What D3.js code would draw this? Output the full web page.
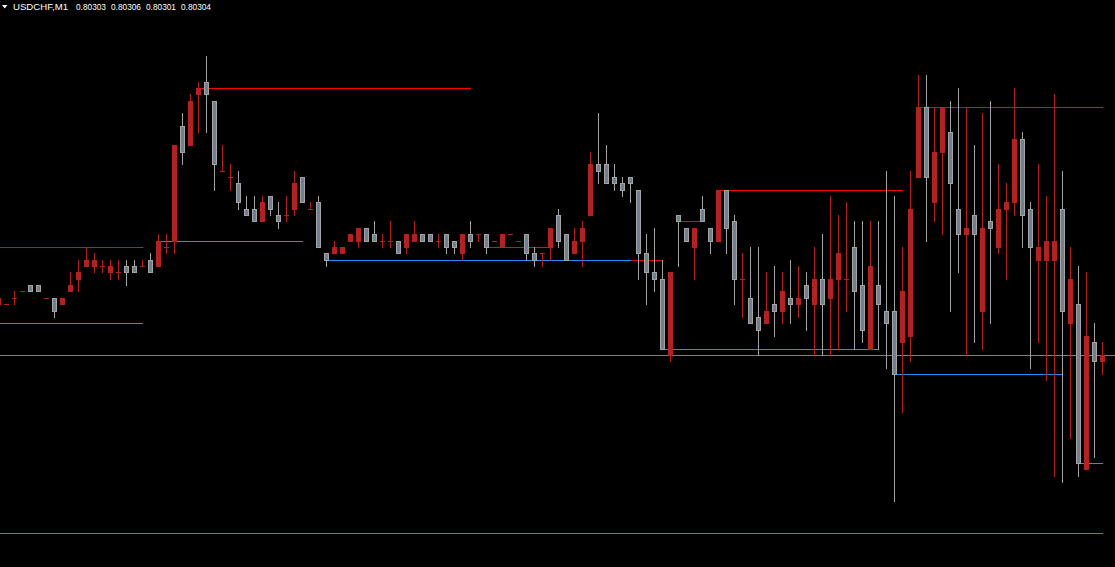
<!DOCTYPE html>
<html>
<head>
<meta charset="utf-8">
<script src="https://cdn.jsdelivr.net/npm/d3@7"></script>
<style>
  html, body { margin: 0; padding: 0; background: #000; }
  svg { display: block; }
</style>
</head>
<body>
<svg id="chart" width="1115" height="567"></svg>
<script>
// ---- Data (USDCHF, M1) ----
const symbol = "USDCHF,M1";
const open = [0.80312,0.80312,0.80313,0.80314,0.80315,0.80315,0.80313,0.80313,0.80312,0.80314,
0.80316,0.80318,0.80318,0.80318,0.80317,0.80317,0.80318,0.80318,0.80318,0.80319,
0.80318,0.80321,0.80322,0.80340,0.80337,0.80345,0.80347,0.80344,0.80333,0.80332,
0.80331,0.80327,0.80327,0.80325,0.80329,0.80326,0.80326,0.80327,0.80332,0.80327,
0.80328,0.80320,0.80320,0.80320,0.80322,0.80322,0.80324,0.80323,0.80322,0.80322,
0.80322,0.80321,0.80322,0.80323,0.80323,0.80322,0.80323,0.80322,0.80320,0.80323,
0.80323,0.80323,0.80322,0.80321,0.80323,0.80322,0.80323,0.80320,0.80320,0.80321,
0.80326,0.80323,0.80320,0.80322,0.80326,0.80334,0.80334,0.80332,0.80331,0.80332,
0.80330,0.80320,0.80317,0.80316,0.80304,0.80326,0.80324,0.80321,0.80327,0.80324,
0.80322,0.80330,0.80325,0.80316,0.80313,0.80310,0.80309,0.80312,0.80311,0.80313,
0.80312,0.80315,0.80312,0.80316,0.80313,0.80316,0.80316,0.80321,0.80315,0.80305,
0.80315,0.80311,0.80311,0.80306,0.80307,0.80332,0.80343,0.80328,0.80336,0.80339,
0.80327,0.80323,0.80326,0.80311,0.80325,0.80321,0.80327,0.80328,0.80338,0.80327,
0.80319,0.80319,0.80319,0.80327,0.80309,0.80312,0.80286,0.80306,0.80303];
const high = [0.80313,0.80312,0.80314,0.80314,0.80315,0.80315,0.80313,0.80313,0.80313,0.80317,
0.80319,0.80321,0.80320,0.80319,0.80319,0.80319,0.80319,0.80319,0.80319,0.80320,
0.80323,0.80323,0.80337,0.80342,0.80345,0.80347,0.80351,0.80344,0.80337,0.80334,
0.80333,0.80329,0.80329,0.80329,0.80329,0.80328,0.80329,0.80333,0.80332,0.80328,
0.80329,0.80320,0.80322,0.80321,0.80323,0.80324,0.80324,0.80325,0.80323,0.80325,
0.80322,0.80323,0.80325,0.80323,0.80323,0.80323,0.80323,0.80322,0.80323,0.80325,
0.80323,0.80323,0.80322,0.80323,0.80323,0.80322,0.80323,0.80321,0.80320,0.80324,
0.80327,0.80323,0.80324,0.80325,0.80336,0.80342,0.80337,0.80334,0.80332,0.80332,
0.80330,0.80323,0.80324,0.80319,0.80317,0.80326,0.80324,0.80324,0.80329,0.80324,
0.80330,0.80330,0.80326,0.80320,0.80321,0.80321,0.80317,0.80318,0.80317,0.80319,
0.80318,0.80317,0.80321,0.80323,0.80329,0.80326,0.80328,0.80325,0.80325,0.80325,
0.80325,0.80333,0.80329,0.80321,0.80333,0.80348,0.80348,0.80343,0.80343,0.80344,
0.80346,0.80343,0.80337,0.80342,0.80344,0.80334,0.80331,0.80346,0.80339,0.80328,
0.80334,0.80329,0.80345,0.80333,0.80321,0.80318,0.80317,0.80309,0.80306];
const low = [0.80312,0.80312,0.80312,0.80314,0.80314,0.80314,0.80313,0.80310,0.80312,0.80314,
0.80314,0.80318,0.80317,0.80317,0.80316,0.80316,0.80315,0.80317,0.80318,0.80317,
0.80318,0.80320,0.80320,0.80334,0.80337,0.80339,0.80339,0.80330,0.80333,0.80330,
0.80327,0.80326,0.80325,0.80325,0.80326,0.80324,0.80325,0.80326,0.80328,0.80327,
0.80321,0.80318,0.80320,0.80320,0.80322,0.80321,0.80322,0.80322,0.80321,0.80321,
0.80320,0.80320,0.80322,0.80322,0.80322,0.80321,0.80320,0.80320,0.80319,0.80321,
0.80322,0.80320,0.80322,0.80321,0.80323,0.80322,0.80319,0.80318,0.80318,0.80319,
0.80321,0.80319,0.80320,0.80318,0.80326,0.80331,0.80331,0.80330,0.80329,0.80328,
0.80316,0.80312,0.80314,0.80305,0.80303,0.80318,0.80322,0.80316,0.80325,0.80320,
0.80322,0.80320,0.80312,0.80310,0.80309,0.80304,0.80309,0.80307,0.80309,0.80309,
0.80310,0.80308,0.80304,0.80304,0.80304,0.80305,0.80311,0.80305,0.80306,0.80305,
0.80305,0.80302,0.80281,0.80295,0.80303,0.80332,0.80322,0.80325,0.80323,0.80311,
0.80317,0.80304,0.80306,0.80305,0.80309,0.80320,0.80316,0.80326,0.80321,0.80302,
0.80306,0.80300,0.80285,0.80284,0.80291,0.80285,0.80286,0.80288,0.80301];
const close = [0.80313,0.80312,0.80313,0.80314,0.80314,0.80314,0.80313,0.80311,0.80313,0.80315,
0.80317,0.80319,0.80319,0.80318,0.80318,0.80317,0.80317,0.80317,0.80318,0.80317,
0.80322,0.80321,0.80337,0.80336,0.80344,0.80346,0.80345,0.80334,0.80333,0.80332,
0.80328,0.80326,0.80325,0.80328,0.80327,0.80325,0.80326,0.80331,0.80328,0.80327,
0.80321,0.80319,0.80321,0.80321,0.80323,0.80324,0.80322,0.80322,0.80322,0.80322,
0.80320,0.80323,0.80323,0.80322,0.80322,0.80322,0.80321,0.80321,0.80323,0.80322,
0.80323,0.80321,0.80322,0.80323,0.80323,0.80322,0.80320,0.80319,0.80320,0.80324,
0.80322,0.80319,0.80322,0.80324,0.80334,0.80333,0.80331,0.80331,0.80330,0.80331,
0.80320,0.80317,0.80316,0.80305,0.80317,0.80325,0.80322,0.80324,0.80325,0.80322,
0.80330,0.80324,0.80316,0.80316,0.80309,0.80308,0.80311,0.80311,0.80314,0.80312,
0.80313,0.80313,0.80316,0.80312,0.80316,0.80320,0.80316,0.80314,0.80308,0.80318,
0.80312,0.80309,0.80301,0.80314,0.80327,0.80343,0.80332,0.80336,0.80343,0.80331,
0.80323,0.80324,0.80323,0.80324,0.80324,0.80327,0.80328,0.80338,0.80326,0.80321,
0.80321,0.80322,0.80322,0.80311,0.80316,0.80287,0.80307,0.80303,0.80304];

// Horizontal levels: price, from-bar, to-bar
const resistanceLevels = [[0.80321, 0, 18], [0.80346, 25, 59], [0.80321, 61, 69], [0.80319, 79, 83],
                          [0.80325, 85, 88], [0.80330, 90, 113], [0.80343, 115, 138]];
const supportLevels = [[0.80309, 0, 18], [0.80322, 20, 38], [0.80319, 41, 79], [0.80305, 83, 110],
                       [0.80301, 112, 133], [0.80287, 135, 138], [0.80276, 0, 138]];
const bidPrice = 0.80304;

// ---- Drawing ----
const W = 1115, H = 567;
const svg = d3.select("#chart");
svg.append("rect").attr("width", W).attr("height", H).attr("fill", "#000");

const n = open.length;
const x = d3.scaleLinear().domain([0, n - 1]).range([-1.5, 1102.5]);
const y = d3.scaleLinear().domain([0.80276, 0.80346]).range([533, 88]);
const py = p => Math.round(y(p));

const colBull = "#b22222", colBearFill = "#708090", colBearLine = "#a4a4a4";
const colRes = "#ff0000", colSup = "#1e90ff", colBid = "#808080";

// level lines
const lv = svg.append("g").attr("shape-rendering", "crispEdges");
lv.append("line").attr("x1", 0).attr("x2", W)
  .attr("y1", py(bidPrice) + 0.5).attr("y2", py(bidPrice) + 0.5)
  .attr("stroke", colBid).attr("stroke-width", 1);
lv.selectAll("line.res").data(resistanceLevels).join("line").attr("class", "res")
  .attr("x1", d => Math.max(0, x(d[1]))).attr("x2", d => x(d[2]))
  .attr("y1", d => py(d[0]) + 0.5).attr("y2", d => py(d[0]) + 0.5)
  .attr("stroke", colRes).attr("stroke-width", 1);
lv.selectAll("line.sup").data(supportLevels).join("line").attr("class", "sup")
  .attr("x1", d => Math.max(0, x(d[1]))).attr("x2", d => x(d[2]))
  .attr("y1", d => py(d[0]) + 0.5).attr("y2", d => py(d[0]) + 0.5)
  .attr("stroke", colSup).attr("stroke-width", 1);

// candles
const bars = d3.range(n).map(i => ({i, o: open[i], h: high[i], l: low[i], c: close[i]}));
const cg = svg.append("g").attr("shape-rendering", "crispEdges");
const g = cg.selectAll("g.c").data(bars).join("g").attr("class", "c");

g.filter(d => d.h !== d.l).append("rect")
  .attr("x", d => x(d.i) - 0.5).attr("width", 1)
  .attr("y", d => py(d.h)).attr("height", d => py(d.l) - py(d.h) + 1)
  .attr("fill", d => d.c >= d.o ? colBull : colBearLine);

// doji
g.filter(d => d.c === d.o).append("rect")
  .attr("x", d => x(d.i) - 2.5).attr("width", 5)
  .attr("y", d => py(d.o)).attr("height", 1)
  .attr("fill", colBull);

// bull bodies
g.filter(d => d.c > d.o).append("rect")
  .attr("x", d => x(d.i) - 2.5).attr("width", 5)
  .attr("y", d => py(d.c)).attr("height", d => py(d.o) - py(d.c) + 1)
  .attr("fill", colBull);

// bear bodies
g.filter(d => d.c < d.o).append("rect")
  .attr("x", d => x(d.i) - 2).attr("width", 4)
  .attr("y", d => py(d.o) + 0.5).attr("height", d => py(d.c) - py(d.o))
  .attr("fill", colBearFill).attr("stroke", colBearLine).attr("stroke-width", 1);

// title
const last = n - 1;
svg.append("path").attr("d", "M2,5 L7.5,5 L4.75,8.5 Z").attr("fill", "#fff");
const fmt = d3.format(".5f");
const titleParts = [symbol, fmt(open[last]), fmt(high[last]), fmt(low[last]), fmt(close[last])];
const titleX = [13, 76, 111, 146, 181];
const titleW = [55, 30, 30, 30, 30];
svg.selectAll("text.t").data(titleParts).join("text").attr("class", "t")
  .attr("x", (d, i) => titleX[i]).attr("y", 9.5)
  .attr("textLength", (d, i) => titleW[i]).attr("lengthAdjust", "spacingAndGlyphs")
  .attr("fill", "#fff").attr("font-family", "'Liberation Sans', Arial, sans-serif")
  .attr("font-size", 9).text(d => d);
</script>
</body>
</html>
